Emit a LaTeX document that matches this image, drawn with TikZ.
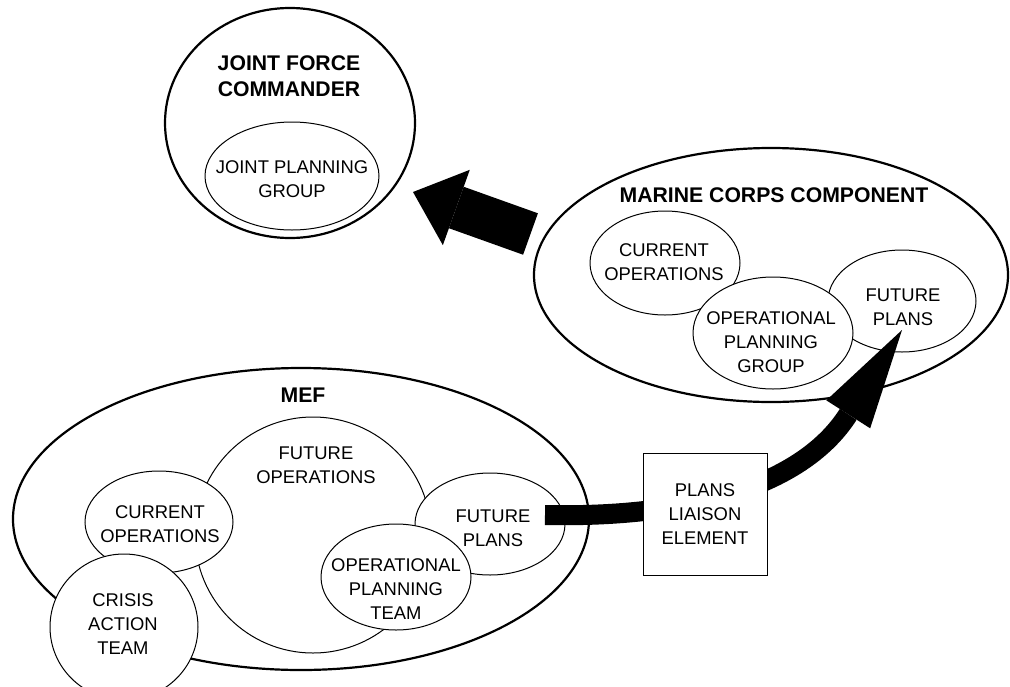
\documentclass[tikz,border=0pt]{standalone}
\usepackage{fontspec}
\setmainfont{Liberation Sans}
\usetikzlibrary{shapes.geometric,arrows.meta}
\begin{document}
\begin{tikzpicture}[x=1pt,y=-1pt,
  outer/.style={draw,ellipse,line width=2.2pt,fill=white,inner sep=0pt},
  inner/.style={draw,ellipse,line width=1pt,fill=white,inner sep=0pt},
  lbl/.style={align=center,inner sep=0pt,font=\fontsize{18.4}{24}\selectfont},
  blbl/.style={align=center,inner sep=0pt,font=\fontsize{21.2}{25.5}\selectfont\bfseries},
  box/.style={draw,line width=1pt,fill=white,inner sep=0pt,align=center,font=\fontsize{18.4}{24}\selectfont},
  fatarrow/.style={line width=44pt,-{Triangle[length=46pt,width=80pt,line width=0pt]}},
  flowarrow/.style={line width=20pt,-{Triangle[length=100pt,width=52pt,line width=0pt]}}]
\useasboundingbox (0,0) rectangle (1010,686);
\clip (0,0) rectangle (1010,686);

% Joint force commander
\node[outer,minimum width=250pt,minimum height=230pt] (jfc) at (290,123) {};
\node[blbl] (jfcl) at (289,76) {JOINT FORCE\\COMMANDER};
\node[inner,minimum width=174pt,minimum height=108pt] (jpg) at (292,176) {};
\node[lbl] (jpgl) at (292,179) {JOINT PLANNING\\GROUP};

% Marine corps component
\node[outer,minimum width=474pt,minimum height=254pt] (mcc) at (771,275) {};
\node[blbl] (mccl) at (774,195) {MARINE CORPS COMPONENT};
\node[inner,minimum width=150pt,minimum height=104pt] (mcur) at (665,263) {};
\node[lbl] (mcurl) at (664,262) {CURRENT\\OPERATIONS};
\node[inner,minimum width=148pt,minimum height=102pt] (mfp) at (902,301) {};
\node[lbl] (mfpl) at (903,307) {FUTURE\\PLANS};
\node[inner,minimum width=160pt,minimum height=112pt] (mopg) at (773,333) {};
\node[lbl] (mopgl) at (771,342) {OPERATIONAL\\PLANNING\\GROUP};

% big arrow MCC -> JFC
\coordinate (bt) at (530.5,234);
\coordinate (bh) at (413,192);
\draw[fatarrow] (bt) -- (bh);

% MEF
\node[outer,minimum width=576pt,minimum height=302pt] (mef) at (301,519) {};
\node[blbl] (mefl) at (303,395) {MEF};
\node[inner,minimum width=236pt,minimum height=236pt] (fops) at (313,535) {};
\node[lbl] (fopsl) at (316,465) {FUTURE\\OPERATIONS};
\node[inner,minimum width=148pt,minimum height=102pt] (ecur) at (159,522) {};
\node[lbl] (ecurl) at (160,524) {CURRENT\\OPERATIONS};
\node[inner,minimum width=148pt,minimum height=146pt] (cat) at (124,627) {};
\node[lbl] (catl) at (123,624) {CRISIS\\ACTION\\TEAM};
\node[inner,minimum width=150pt,minimum height=102pt] (efp) at (490,524) {};
\node[lbl] (efpl) at (493,528) {FUTURE\\PLANS};
\node[inner,minimum width=150pt,minimum height=106pt] (opt) at (396,577) {};
\node[lbl] (optl) at (396,589) {OPERATIONAL\\PLANNING\\TEAM};

% flow arrow MEF future plans -> MCC future plans
\coordinate (cs) at (545,515);
\coordinate (ce) at (902,330);
\draw[flowarrow] (cs) .. controls (680,518) and (800,490) .. (ce);

\node[box,minimum width=124pt,minimum height=122pt] (ple) at (705,514) {PLANS\\LIAISON\\ELEMENT};
\end{tikzpicture}
\end{document}
